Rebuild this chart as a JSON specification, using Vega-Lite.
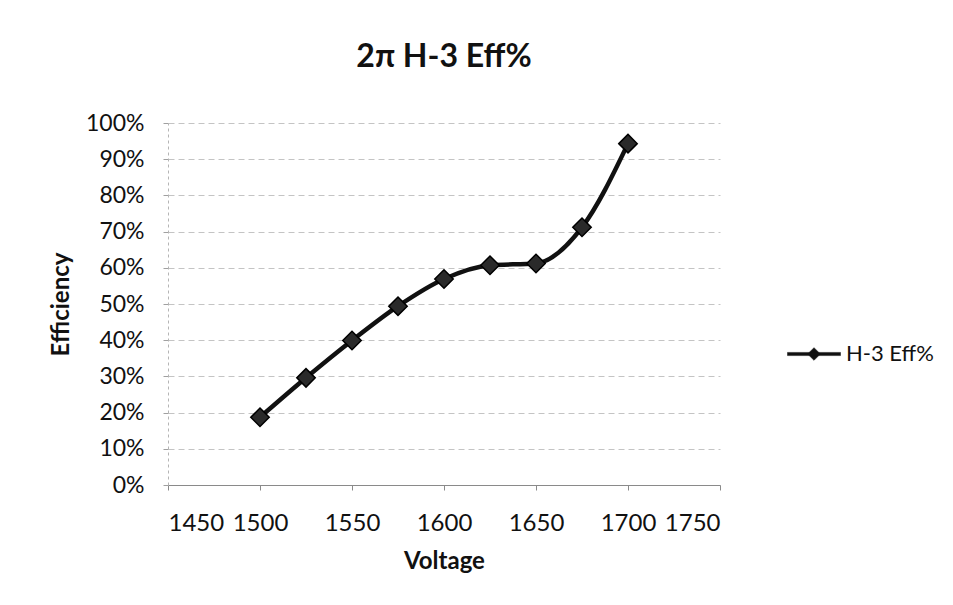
{
  "$schema": "https://vega.github.io/schema/vega-lite/v6.json",
  "autosize": {"type": "none"},
  "width": 552,
  "height": 362,
  "padding": {"left": 168, "top": 123, "right": 233, "bottom": 120},
  "background": "white",
  "config": {
    "font": "Lato",
    "view": {"stroke": null}
  },
  "title": {
    "text": "2π H-3 Eff%",
    "fontSize": 32,
    "fontWeight": "bold",
    "font": "Lato",
    "color": "#111111",
    "baseline": "alphabetic",
    "offset": 13,
    "anchor": "middle"
  },
  "data": {
    "values": [
      {"Voltage": 1500, "Eff": 0.187, "Series": "H-3 Eff%"},
      {"Voltage": 1525, "Eff": 0.296, "Series": "H-3 Eff%"},
      {"Voltage": 1550, "Eff": 0.399, "Series": "H-3 Eff%"},
      {"Voltage": 1575, "Eff": 0.494, "Series": "H-3 Eff%"},
      {"Voltage": 1600, "Eff": 0.569, "Series": "H-3 Eff%"},
      {"Voltage": 1625, "Eff": 0.607, "Series": "H-3 Eff%"},
      {"Voltage": 1650, "Eff": 0.612, "Series": "H-3 Eff%"},
      {"Voltage": 1675, "Eff": 0.712, "Series": "H-3 Eff%"},
      {"Voltage": 1700, "Eff": 0.943, "Series": "H-3 Eff%"}
    ]
  },
  "encoding": {
    "x": {
      "field": "Voltage",
      "type": "quantitative",
      "scale": {"domain": [1450, 1750], "nice": false, "zero": false},
      "axis": {
        "title": "Voltage",
        "format": "d",
        "values": [1450, 1500, 1550, 1600, 1650, 1700, 1750],
        "grid": false,
        "domainColor": "#8a8a8a",
        "tickColor": "#8a8a8a",
        "tickSize": 5,
        "labelPadding": 21,
        "labelFontSize": 24,
        "labelColor": "#111111",
        "labelFont": "Lato",
        "titleFontSize": 24,
        "titleFontWeight": "bold",
        "titleColor": "#111111",
        "titlePadding": 14
      }
    },
    "y": {
      "field": "Eff",
      "type": "quantitative",
      "scale": {"domain": [0, 1], "nice": false},
      "axis": {
        "title": "Efficiency",
        "format": ".0%",
        "values": [0, 0.1, 0.2, 0.3, 0.4, 0.5, 0.6, 0.7, 0.8, 0.9, 1.0],
        "grid": true,
        "gridColor": "#c4c4c4",
        "gridWidth": 1,
        "gridDash": [6, 4],
        "domainColor": "#b5b5b5",
        "domainDash": [3, 3],
        "tickColor": "#a0a0a0",
        "tickSize": 5,
        "labelPadding": 19,
        "labelFontSize": 23,
        "labelColor": "#111111",
        "titleFontSize": 24,
        "titleFontWeight": "bold",
        "titleColor": "#111111",
        "titlePadding": 12
      }
    },
    "color": {
      "field": "Series",
      "type": "nominal",
      "scale": {"range": ["#111111"]},
      "legend": {
        "title": null,
        "orient": "none",
        "legendX": 619,
        "legendY": 204,
        "padding": 0,
        "symbolType": "M-1,-0.06H1V0.06H-1Z M0,-0.24L0.24,0L0,0.24L-0.24,0Z",
        "symbolSize": 2809,
        "symbolFillColor": "#111111",
        "symbolStrokeColor": "#111111",
        "symbolStrokeWidth": 0.5,
        "labelFontSize": 22,
        "labelColor": "#111111",
        "labelOffset": 5
      }
    }
  },
  "layer": [
    {
      "mark": {"type": "line", "interpolate": "monotone", "strokeWidth": 4.5, "color": "#111111"}
    },
    {
      "mark": {"type": "point", "shape": "diamond", "size": 340, "filled": true, "opacity": 1, "fill": "#2a2a2a", "stroke": "#000000", "strokeWidth": 1.5}
    }
  ]
}
